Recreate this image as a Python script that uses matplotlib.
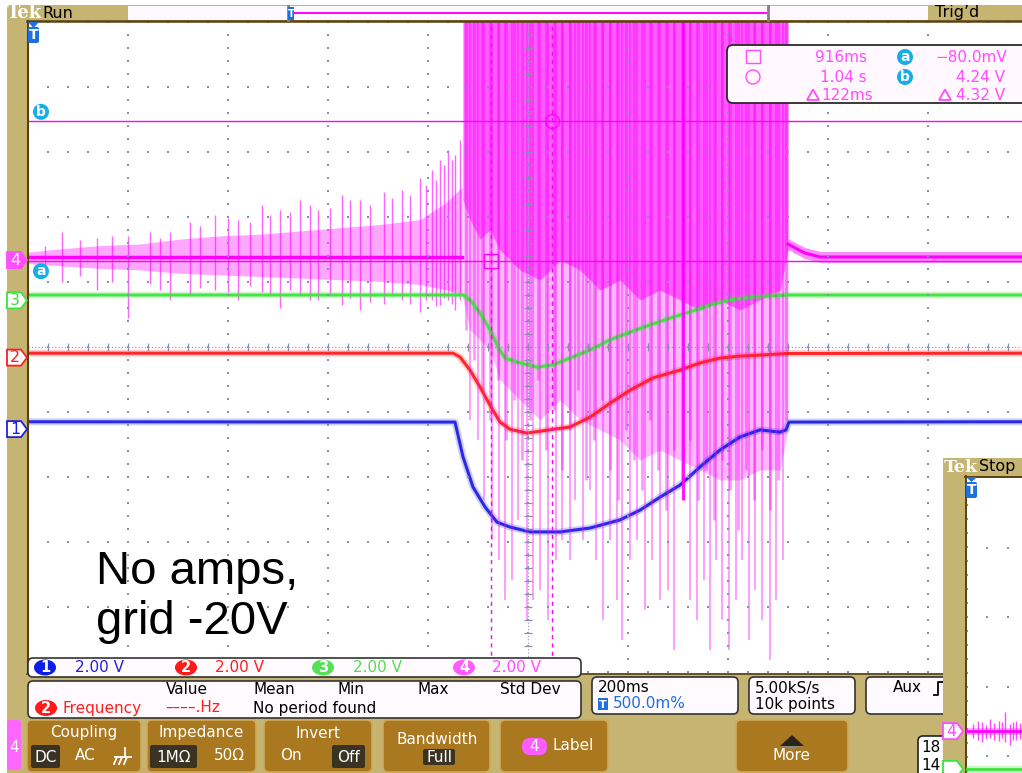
import matplotlib
matplotlib.use("Agg")
import matplotlib.pyplot as plt
from matplotlib.patches import FancyBboxPatch, Rectangle, Polygon, Circle, Ellipse

# ---------------- acquisition settings ----------------
TIME_PER_DIV = 0.2          # s/div
VOLTS_PER_DIV = 2.0         # V/div, all channels
T_START = -0.01             # time at left edge of screen (trigger = 0)
CH_OFFSET = {1: -1.24, 2: -0.14, 3: 0.74, 4: 1.36}   # ground level, divisions

# ---------------- waveform data ----------------
# CH1 (blue)
ch1_t = [-0.01, 0.844, 0.86, 0.88, 0.904, 0.928, 0.954, 0.994, 1.054, 1.114, 1.174,
         1.214, 1.254, 1.294, 1.334, 1.374, 1.414, 1.454, 1.494, 1.506, 1.512, 1.99]
ch1_v = [0.18, 0.17, -0.90, -1.83, -2.44, -2.91, -3.06, -3.21, -3.21, -3.09, -2.84,
         -2.54, -2.14, -1.77, -1.21, -0.69, -0.29, -0.07, -0.14, -0.07, 0.17, 0.18]

# CH2 (red)
ch2_t = [-0.01, 0.84, 0.854, 0.874, 0.894, 0.914, 0.934, 0.954, 0.988, 1.028, 1.074,
         1.114, 1.154, 1.194, 1.24, 1.294, 1.334, 1.374, 1.414, 1.454, 1.508, 1.99]
ch2_v = [0.09, 0.09, -0.03, -0.43, -0.95, -1.51, -2.03, -2.25, -2.37, -2.28, -2.18,
         -1.88, -1.45, -1.05, -0.67, -0.43, -0.21, -0.06, 0.00, 0.03, 0.08, 0.09]

# CH3 (green)
ch3_t = [-0.01, 0.86, 0.874, 0.894, 0.914, 0.93, 0.944, 0.974, 1.008, 1.04, 1.074,
         1.114, 1.154, 1.194, 1.234, 1.274, 1.314, 1.354, 1.394, 1.44, 1.508, 1.99]
ch3_v = [0.12, 0.12, -0.03, -0.43, -0.95, -1.48, -1.82, -1.97, -2.10, -2.03, -1.82,
         -1.57, -1.26, -1.02, -0.80, -0.59, -0.40, -0.19, -0.03, 0.06, 0.12, 0.12]

# CH4 (magenta): noise envelope before the burst
ch4_pre_t = [-0.01, 0.054, 0.134, 0.214, 0.294, 0.374, 0.454, 0.534, 0.614, 0.694,
             0.774, 0.824, 0.858]
ch4_pre_hi = [0.20, 0.30, 0.40, 0.45, 0.60, 0.70, 0.75, 0.85, 0.95, 1.05, 1.20, 1.70, 2.20]
ch4_pre_lo = [-0.15, -0.22, -0.30, -0.35, -0.45, -0.50, -0.55, -0.60, -0.65, -0.70,
              -0.80, -0.95, -1.10]
# individual noise spikes before the burst: time, top, bottom (V)
ch4_spk_t = [0.024, 0.058, 0.094, 0.128, 0.158, 0.19, 0.234, 0.254, 0.274, 0.314, 0.334,
             0.364, 0.39, 0.41, 0.434, 0.458, 0.474, 0.494, 0.514, 0.534, 0.554, 0.57,
             0.594, 0.618, 0.634, 0.654, 0.674, 0.702, 0.718, 0.738, 0.754, 0.774,
             0.786, 0.798, 0.806, 0.814, 0.822, 0.83, 0.838, 0.844, 0.854]
ch4_spk_hi = [0.39, 0.82, 0.57, 0.63, 0.70, 0.70, 0.82, 0.63, 0.82, 1.13, 1.00,
              1.34, 1.25, 1.19, 1.13, 1.65, 1.34, 1.50, 1.43, 1.80, 1.65, 1.50,
              1.56, 1.96, 1.80, 1.80, 1.65, 2.05, 1.86, 2.11, 1.96, 2.48,
              2.27, 2.73, 2.42, 3.03, 2.88, 3.34, 3.03, 3.18, 3.65]
ch4_spk_lo = [-0.29, -0.72, -0.54, -0.97, -0.72, -1.83, -0.78, -0.97, -1.27, -1.15, -0.91,
              -0.97, -1.03, -1.27, -0.84, -1.03, -1.15, -1.52, -0.97, -1.15, -1.27, -1.27,
              -1.15, -1.43, -1.21, -1.58, -1.34, -1.40, -1.15, -1.27, -1.40, -1.64,
              -1.27, -1.27, -1.46, -1.43, -1.21, -1.27, -1.40, -1.58, -1.27]

# burst: lower edges of the saturated core and of the dense band (top is off screen)
burst_t = [0.86, 0.874, 0.894, 0.914, 0.934, 0.974, 1.014, 1.054, 1.094, 1.134, 1.174,
           1.214, 1.254, 1.294, 1.334, 1.374, 1.414, 1.454, 1.494, 1.51]
burst_core = [1.80, 1.20, 0.60, 0.88, 0.26, -0.35, -0.66, -0.04, -0.35, -0.97, -0.66,
              -1.27, -0.97, -1.27, -1.58, -1.27, -1.58, -1.27, -0.97, 0.26]
burst_dense = [-1.27, -2.19, -2.50, -2.81, -3.73, -4.35, -4.96, -4.35, -4.96, -5.27, -5.58,
               -6.20, -5.89, -6.20, -6.50, -6.81, -6.81, -6.50, -6.50, -5.27]
# hairs reaching down through the dense band
burst_hair_t = [0.866, 0.882, 0.898, 0.914, 0.93, 0.946, 0.962, 0.978, 0.994, 1.01, 1.026,
                1.042, 1.058, 1.074, 1.09, 1.106, 1.122, 1.138, 1.154, 1.17, 1.186, 1.202,
                1.218, 1.234, 1.25, 1.266, 1.282, 1.298, 1.314, 1.33, 1.346, 1.362, 1.378,
                1.394, 1.41, 1.426, 1.442, 1.458, 1.474, 1.49, 1.506]
burst_hair_lo = [-2.20, -3.12, -4.04, -4.97, -3.73, -5.58, -4.35, -6.20, -4.97, -3.73, -5.89,
                 -4.66, -6.51, -5.27, -4.04, -6.81, -5.58, -4.35, -6.51, -7.43, -5.27, -6.20,
                 -7.12, -4.97, -6.51, -7.73, -5.89, -6.81, -5.58, -7.43, -6.51, -8.04, -6.20,
                 -7.12, -8.35, -6.51, -7.43, -5.89, -7.73, -6.81, -4.97]
# deep negative excursions during the burst
burst_spk_t = [0.874, 0.89, 0.902, 0.918, 0.932, 0.944, 0.958, 0.97, 0.988, 1.0, 1.014,
               1.03, 1.046, 1.058, 1.074, 1.084, 1.1, 1.114, 1.126, 1.14, 1.154, 1.168,
               1.178, 1.194, 1.208, 1.224, 1.238, 1.254, 1.27, 1.282, 1.314, 1.328,
               1.342, 1.354, 1.366, 1.378, 1.392, 1.406, 1.418, 1.432, 1.444, 1.458,
               1.474, 1.486, 1.5]
burst_spk_lo = [-4.96, -5.58, -7.42, -8.66, -9.27, -10.5, -9.89, -8.04, -11.12, -10.5, -10.2,
                -11.12, -9.27, -8.66, -9.27, -7.42, -8.66, -7.11, -9.27, -11.12, -8.66, -10.5,
                -11.74, -9.27, -8.66, -10.81, -9.27, -10.5, -10.2, -12.04, -10.5, -11.12,
                -9.89, -12.04, -9.27, -11.12, -12.04, -10.5, -9.27, -11.74, -10.2, -11.12,
                -12.35, -10.5, -9.27]
burst_bright_t = 1.30
burst_bright_lo = -7.43

# after the burst
ch4_post_t = [1.51, 1.524, 1.544, 1.574, 1.99]
ch4_post_v = [0.45, 0.33, 0.17, 0.05, 0.05]

# cursors
cursor_t = [0.916, 1.038]
cursor_v = [-0.08, 4.24]

# second (stopped) acquisition, partially visible at lower right
ov_t = [-0.01, 0.0967]
ov_ch4_v = [0.0, 0.0]
ov_ch3_v = [0.0, 0.0]
ov_spk_t = [0.004, 0.012, 0.02, 0.028, 0.036, 0.044, 0.052, 0.058, 0.065, 0.074, 0.08, 0.085, 0.092]
ov_spk_hi = [0.20, 0.30, 0.25, 0.18, 0.35, 0.22, 0.28, 0.25, 0.54, 0.20, 0.26, 0.30, 0.22]
ov_spk_lo = [-0.20, -0.25, -0.30, -0.22, -0.20, -0.26, -0.28, -0.20, -0.30, -0.40, -0.24, -0.25, -0.22]
OV_OFFSET = {4: -3.63, 3: -4.17}

# readouts
ch_scale = ["2.00 V", "2.00 V", "2.00 V", "2.00 V"]
meas_headers = ["Value", "Mean", "Min", "Max", "Std Dev"]

# ---------------- styling ----------------
W, H = 1022, 773
TAN = '#c6b572'
BROWN = '#5c4010'
BTN = '#a9781f'
BTN_EDGE = '#cfa95c'
CHIP = '#3a3223'
C1, C2, C3, C4 = '#2020e6', '#ff1e1e', '#3fe23f', '#ff00ff'
T4 = '#ff4dff'
T3 = '#55dc55'
CYAN = '#17ade8'
TBLUE = '#1e6fe0'
GRID = '#8b90ad'
FONT = 'DejaVu Sans'

fig = plt.figure(figsize=(W / 100, H / 100), dpi=100)
fig.patch.set_facecolor('white')


def px_axes(z, rect=(0, 0, 1, 1)):
    ax = fig.add_axes(rect, zorder=z)
    ax.set_xlim(0, W)
    ax.set_ylim(H, 0)
    ax.axis('off')
    return ax


def rbox(ax, x0, y0, x1, y1, r=5, fc='white', ec='#222222', lw=1.2, z=3):
    ax.add_patch(FancyBboxPatch((x0, y0), x1 - x0, y1 - y0,
                                boxstyle=f"round,pad=0,rounding_size={r}",
                                fc=fc, ec=ec, lw=lw, zorder=z))


def txt(ax, x, y, s, size=11, color='black', ha='left', va='center',
        weight='normal', family=FONT, z=6):
    ax.text(x, y, s, fontsize=size, color=color, ha=ha, va=va,
            fontweight=weight, family=family, zorder=z)


def badge(ax, x, y, s, fc, w=22, h=16, tc='white', z=6, size=10.5):
    ax.add_patch(Ellipse((x, y), w, h, fc=fc, ec='none', zorder=z))
    txt(ax, x, y + 0.5, s, size=size, color=tc, ha='center', weight='bold', z=z + 1)


# ---------------- background / bezel ----------------
bg = px_axes(0)
bg.add_patch(Rectangle((7, 5), W - 7, 16, fc=TAN, ec='none'))
bg.add_patch(Rectangle((7, 5), 20, 715, fc=TAN, ec='none'))
bg.add_patch(Rectangle((7, 673), W - 7, 100, fc=TAN, ec='none'))
bg.add_patch(Rectangle((128, 6), 800, 14, fc='#fef9fd', ec='none'))

# screen geometry in pixels
SX0, SY0, DX, DY = 28, 22, 100, 65
SCX, SCY = SX0 + 5 * DX, SY0 + 5 * DY

# waveform axes covering the graticule
aw = fig.add_axes([SX0 / W, (H - (SY0 + 10 * DY)) / H, 10 * DX / W, 10 * DY / H], zorder=1)
aw.set_xlim(T_START, T_START + 10 * TIME_PER_DIV)
aw.set_ylim(-5, 5)
aw.axis('off')


def dv(ch, v):
    return [CH_OFFSET[ch] + x / VOLTS_PER_DIV for x in v]


TOP = 6.0   # above the screen, the burst is clipped there

# CH4 quiet section
aw.fill_between(ch4_pre_t, dv(4, ch4_pre_lo), dv(4, ch4_pre_hi), color=C4, alpha=0.35, lw=0, zorder=2)
aw.plot(ch4_pre_t, dv(4, [0.05] * len(ch4_pre_t)), color=C4, lw=2.5, zorder=2)
aw.vlines(ch4_spk_t, dv(4, ch4_spk_lo), dv(4, ch4_spk_hi), color=C4, lw=1.0, alpha=0.6, zorder=2)

# CH4 burst body
aw.fill_between(burst_t, dv(4, burst_dense), TOP, color=C4, alpha=0.28, lw=0, zorder=2)
aw.fill_between(burst_t, dv(4, burst_core), TOP, color=C4, alpha=0.5, lw=0, zorder=2)
aw.vlines(burst_hair_t, dv(4, burst_hair_lo), TOP, color=C4, lw=2.0, alpha=0.4, zorder=2)

# analog traces with a soft halo for the noise band
for t, v, ch, c in [(ch1_t, ch1_v, 1, C1), (ch2_t, ch2_v, 2, C2), (ch3_t, ch3_v, 3, C3)]:
    aw.plot(t, dv(ch, v), color=c, lw=5, alpha=0.22, solid_capstyle='butt', zorder=3)
    aw.plot(t, dv(ch, v), color=c, lw=2.2, alpha=0.95, solid_capstyle='butt', zorder=3)

# CH4 deep excursions drawn over the analog traces
aw.vlines(burst_spk_t, dv(4, burst_spk_lo), TOP, color=C4, lw=1.2, alpha=0.45, zorder=4)
aw.vlines([burst_bright_t], dv(4, [burst_bright_lo]), TOP, color=C4, lw=2.2, alpha=0.9, zorder=4)

# CH4 after the burst
aw.fill_between(ch4_post_t, dv(4, [v - 0.17 for v in ch4_post_v]), dv(4, [v + 0.17 for v in ch4_post_v]),
                color=C4, alpha=0.45, lw=0, zorder=4)
aw.plot(ch4_post_t, dv(4, ch4_post_v), color=C4, lw=2.2, zorder=4)

# cursors
for v in cursor_v:
    aw.axhline(CH_OFFSET[4] + v / VOLTS_PER_DIV, color=C4, lw=1.0, zorder=5)
for t in cursor_t:
    aw.axvline(t, color=C4, lw=1.0, ls=(0, (3, 3)), zorder=5)
aw.plot([cursor_t[0]], dv(4, [cursor_v[0]]), marker='s', ms=10, mfc='none', mec=C4, mew=1.0, zorder=6)
aw.plot([cursor_t[1]], dv(4, [cursor_v[1]]), marker='o', ms=10, mfc='none', mec=C4, mew=1.0, zorder=6)

# ---------------- foreground: graticule, markers, readouts ----------------
fg = px_axes(2)

gx, gy = [], []
for k in range(11):
    for j in range(51):
        gx.append(SX0 + k * DX)
        gy.append(SY0 + 13 * j)
for k in range(11):
    for j in range(51):
        gx.append(SX0 + 20 * j)
        gy.append(SY0 + k * DY)
fg.scatter(gx, gy, s=1.6, marker='s', c=GRID, linewidths=0, zorder=1)
fg.plot([SCX, SCX], [SY0, SY0 + 10 * DY], color=GRID, lw=0.8, ls=(0, (1, 2)), zorder=1)
fg.plot([SX0, SX0 + 10 * DX], [SCY, SCY], color=GRID, lw=0.8, ls=(0, (1, 2)), zorder=1)
fg.hlines([SY0 + 13 * j for j in range(51)], SCX - 4, SCX + 4, color=GRID, lw=0.9, zorder=1)
fg.vlines([SX0 + 20 * j for j in range(51)], SCY - 4, SCY + 4, color=GRID, lw=0.9, zorder=1)

# screen border
fg.plot([27.5, 27.5], [21, 673], color=BROWN, lw=1.5, zorder=2)
fg.plot([27, W], [21, 21], color=BROWN, lw=1.8, zorder=2)
fg.plot([27, W], [673.5, 673.5], color=BROWN, lw=1.2, zorder=2)

# status bar
txt(fg, 7, 13.5, "Tek", size=13, color='white', weight='bold', family='DejaVu Serif')
txt(fg, 42, 13, "Run", size=11.5)
txt(fg, 935, 13, "Trig\u2019d", size=11.5)
fg.plot([293, 766], [12.5, 12.5], color=C4, lw=1.4, zorder=3)
fg.plot([767.5, 767.5], [6, 20], color='#808080', lw=2, zorder=3)
fg.plot([287.5, 287.5], [6, 20], color='#808080', lw=2, zorder=3)
fg.add_patch(Rectangle((288, 7), 6, 13, fc=TBLUE, ec='none', zorder=4))
txt(fg, 291, 14, "T", size=7, color='white', ha='center', weight='bold')

# trigger position marker
fg.add_patch(Polygon([(28, 22), (39, 22), (33.5, 28)], closed=True, fc=TBLUE, ec='none', zorder=4))
fg.add_patch(FancyBboxPatch((28, 27), 11, 16, boxstyle="round,pad=0,rounding_size=2",
                            fc=TBLUE, ec='none', zorder=4))
txt(fg, 33.5, 35, "T", size=10, color='white', ha='center', weight='bold')

# cursor badges on the left
for lab, v in (("b", cursor_v[1]), ("a", cursor_v[0])):
    yy = SCY - (CH_OFFSET[4] + v / VOLTS_PER_DIV) * DY
    y_badge = yy - 9 if lab == "b" else yy + 10
    fg.add_patch(Circle((41, y_badge), 8, fc=CYAN, ec='none', zorder=5))
    txt(fg, 41, y_badge, lab, size=10, color='white', ha='center', weight='bold')

# channel ground markers
for ch, col, filled in ((4, T4, True), (3, C3, False), (2, C2, False), (1, C1, False)):
    yy = SCY - CH_OFFSET[ch] * DY + 1.5
    pts = [(7, yy - 8), (21, yy - 8), (27, yy), (21, yy + 8), (7, yy + 8)]
    fg.add_patch(Polygon(pts, closed=True, fc=col if filled else 'white', ec=col, lw=1.3, zorder=5))
    txt(fg, 15, yy, str(ch), size=11.5, color='white' if filled else col, ha='center')

# cursor readout (upper right)
rbox(fg, 727, 45, 1040, 103, r=6, fc='#fff8fe', ec='#2a2a2a', lw=1.3, z=3)
fg.add_patch(Rectangle((746, 50), 14, 13, fc='none', ec=T4, lw=1.0, zorder=4))
fg.add_patch(Circle((753, 77), 7, fc='none', ec=T4, lw=1.0, zorder=4))
txt(fg, 867, 57, "916ms", color=T4, ha='right')
txt(fg, 867, 77, "1.04 s", color=T4, ha='right')
txt(fg, 873, 95, "122ms", color=T4, ha='right')
for lab, yy in (("a", 57), ("b", 77)):
    fg.add_patch(Circle((905, yy), 8, fc=CYAN, ec='none', zorder=5))
    txt(fg, 905, yy, lab, size=10, color='white', ha='center', weight='bold')
txt(fg, 1007, 57, "\u221280.0mV", color=T4, ha='right')
txt(fg, 1005, 77, "4.24 V", color=T4, ha='right')
txt(fg, 1005, 95, "4.32 V", color=T4, ha='right')
for x0 in (807, 939):
    fg.add_patch(Polygon([(x0, 100), (x0 + 12, 100), (x0 + 6, 89.5)], closed=True,
                         fc='none', ec=T4, lw=1.3, zorder=5))

# annotation
txt(fg, 96, 572, "No amps,", size=34, family='Liberation Sans')
txt(fg, 96, 622, "grid -20V", size=34, family='Liberation Sans')

# channel scale readout
rbox(fg, 28, 658, 581, 677, r=5, fc='#fffafe', ec='#333333', lw=1.2, z=3)
for i, (cx, tx, col, tcol) in enumerate(((45, 75, '#0b1ee6', C1), (186, 215, '#ff1a1a', C2),
                                        (323, 353, '#55e055', T3), (464, 492, '#ff5cff', T4))):
    badge(fg, cx, 667.5, str(i + 1), col)
    txt(fg, tx, 667.5, ch_scale[i], color=tcol)

# measurement readout
rbox(fg, 28, 681, 581, 718, r=5, fc='#fffafe', ec='#333333', lw=1.2, z=3)
for s, xc in zip(meas_headers, (187, 274, 351, 433, 530)):
    txt(fg, xc, 690, s, ha='center')
badge(fg, 46, 708, "2", '#ff1a1a')
txt(fg, 62, 708, "Frequency", color=C2)
txt(fg, 165, 708, "\u2013\u2013\u2013\u2013.Hz", color=C2)
txt(fg, 253, 708, "No period found")

# horizontal / acquisition readouts
rbox(fg, 592, 677, 738, 714, r=5, fc='#fffafe', ec='#333333', lw=1.2, z=3)
txt(fg, 598, 688, "200ms")
fg.add_patch(Rectangle((598, 698), 10, 12, fc=TBLUE, ec='none', zorder=5))
txt(fg, 603, 704.5, "T", size=8, color='white', ha='center', weight='bold')
txt(fg, 613, 704, "500.0m%", color=TBLUE)
rbox(fg, 749, 677, 855, 714, r=5, fc='#fffafe', ec='#333333', lw=1.2, z=3)
txt(fg, 755, 688, "5.00kS/s")
txt(fg, 755, 704, "10k points")
rbox(fg, 866, 677, 960, 714, r=5, fc='#fffafe', ec='#333333', lw=1.2, z=3)
txt(fg, 893, 688, "Aux")
fg.plot([934, 938, 938, 943], [695, 695, 682, 682], color='black', lw=1.3, zorder=5)

# soft-key buttons
fg.add_patch(FancyBboxPatch((7, 720), 14, 50, boxstyle="round,pad=0,rounding_size=3",
                            fc='#ff66ff', ec='none', zorder=3))
txt(fg, 14, 748, "4", color='white', ha='center')
for x0, x1 in ((27, 141), (147, 256), (264, 372), (383, 490), (500, 608), (736, 848)):
    rbox(fg, x0, 720, x1, 772, r=5, fc=BTN, ec=BTN_EDGE, lw=1.2, z=3)


def chip(x0, x1, y0, y1, s):
    fg.add_patch(FancyBboxPatch((x0, y0), x1 - x0, y1 - y0, boxstyle="round,pad=0,rounding_size=2",
                                fc=CHIP, ec='none', zorder=4))
    txt(fg, (x0 + x1) / 2, (y0 + y1) / 2 + 0.5, s, color='white', ha='center')


txt(fg, 84, 733, "Coupling", color='white', ha='center')
chip(31, 60, 745, 768, "DC")
txt(fg, 85, 756, "AC", color='white', ha='center')
fg.plot([125, 125], [748, 757], color='white', lw=1.3, zorder=5)
fg.plot([115, 131], [757, 757], color='white', lw=1.3, zorder=5)
for xs in (117, 122, 127):
    fg.plot([xs, xs - 3], [757, 764], color='white', lw=1.3, zorder=5)

txt(fg, 201, 733, "Impedance", color='white', ha='center')
chip(150, 197, 745, 768, "1M\u03a9")
txt(fg, 229, 756, "50\u03a9", color='white', ha='center')

txt(fg, 318, 733, "Invert", color='white', ha='center')
txt(fg, 291, 756, "On", color='white', ha='center')
chip(332, 365, 745, 768, "Off")

txt(fg, 437, 739, "Bandwidth", color='white', ha='center')
chip(423, 455, 749, 765, "Full")

fg.add_patch(FancyBboxPatch((522, 738), 25, 17, boxstyle="round,pad=0,rounding_size=8",
                            fc='#ff5cff', ec='none', zorder=4))
txt(fg, 534.5, 746.5, "4", color='white', ha='center')
txt(fg, 553, 746, "Label", color='white')

fg.add_patch(Polygon([(780, 746), (804, 746), (792, 735)], closed=True, fc='#2b2518', ec='none', zorder=4))
fg.add_patch(Polygon([(780, 746), (804, 746), (792, 749)], closed=True, fc='#8a8a8a', ec='none', zorder=4))
txt(fg, 792, 756, "More", color='white', ha='center')

rbox(fg, 918, 736, 952, 790, r=5, fc='white', ec='#222222', lw=1.2, z=3)
txt(fg, 921, 747, "18")
txt(fg, 921, 765, "14")

# ---------------- second capture (lower right) ----------------
ov = px_axes(4)
ov.add_patch(Rectangle((943, 458), W - 943, H - 458, fc=TAN, ec='none', zorder=1))
ov.add_patch(Rectangle((966, 477), W - 966, H - 477, fc='white', ec='none', zorder=1))
ov.plot([965.5, 965.5], [476, H], color=BROWN, lw=1.4, zorder=3)
ov.plot([965, W], [476.5, 476.5], color=BROWN, lw=1.4, zorder=3)
txt(ov, 944, 467.5, "Tek", size=12.5, color='white', weight='bold', family='DejaVu Serif')
txt(ov, 979, 467, "Stop", size=11.5)
ox, oy = [], []
for yy in (548, 617, 687, 756):
    for xx in range(966, W, 21):
        ox.append(xx)
        oy.append(yy)
for yy in range(491, H, 14):
    ox.append(967)
    oy.append(yy)
ov.scatter(ox, oy, s=1.6, marker='s', c=GRID, linewidths=0, zorder=2)
ov.add_patch(Polygon([(966, 477), (977, 477), (971.5, 482)], closed=True, fc=TBLUE, ec='none', zorder=4))
ov.add_patch(FancyBboxPatch((966, 482), 11, 16, boxstyle="round,pad=0,rounding_size=2",
                            fc=TBLUE, ec='none', zorder=4))
txt(ov, 971.5, 490, "T", size=10, color='white', ha='center', weight='bold')
for ch, col in ((4, T4), (3, C3)):
    yy = 477 + (-OV_OFFSET[ch]) * 70
    pts = [(943, yy - 8), (957, yy - 8), (963, yy), (957, yy + 8), (943, yy + 8)]
    ov.add_patch(Polygon(pts, closed=True, fc='white', ec=col, lw=1.3, zorder=5))
    if ch == 4:
        txt(ov, 951, yy, str(ch), size=11.5, color=col, ha='center')

ovw = fig.add_axes([966 / W, 0, (W - 966) / W, (H - 477) / H], zorder=5)
ovw.set_xlim(ov_t[0], ov_t[1])
ovw.set_ylim(-(H - 477) / 70, 0)
ovw.axis('off')
for ch, v, col in ((4, ov_ch4_v, C4), (3, ov_ch3_v, C3)):
    yv = [OV_OFFSET[ch] + x / VOLTS_PER_DIV for x in v]
    ovw.plot(ov_t, yv, color=col, lw=5, alpha=0.3)
    ovw.plot(ov_t, yv, color=col, lw=2)
ovw.vlines(ov_spk_t, [OV_OFFSET[4] + x / 2 for x in ov_spk_lo], [OV_OFFSET[4] + x / 2 for x in ov_spk_hi],
           color=C4, lw=1.0, alpha=0.7)

fig.savefig("out.png", dpi=100, facecolor='white')
